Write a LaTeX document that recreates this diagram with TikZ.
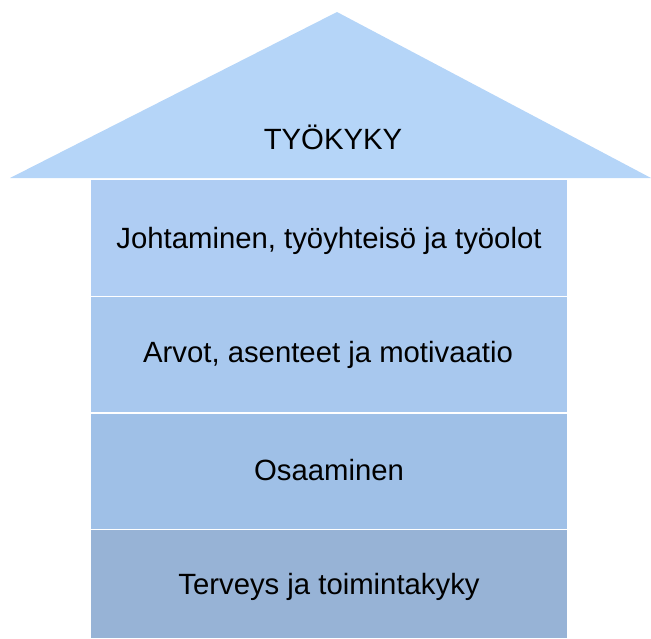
\documentclass[tikz,border=0pt]{standalone}
\usepackage{fontspec}
\setmainfont{Liberation Sans}
\definecolor{roofc}{HTML}{B5D5F8}
\definecolor{bandA}{HTML}{AFCDF3}
\definecolor{bandB}{HTML}{A8C8EE}
\definecolor{bandC}{HTML}{9FC0E7}
\definecolor{bandD}{HTML}{97B3D6}
\tikzset{
  lbl/.style={font=\fontsize{29.3}{34}\selectfont, text=black, inner sep=0pt},
  band/.style={draw=none}
}
\begin{document}
\begin{tikzpicture}[x=1pt,y=-1pt]
\useasboundingbox (0,0) rectangle (651,638);
% roof
\fill[roofc] (10,178) -- (337,12) -- (651,178) -- cycle;
\node[lbl] (roof) at (333,137) {TYÖKYKY};
% bands
\fill[bandA] (91,180) rectangle (567,295.5);
\fill[bandB] (91,297) rectangle (567,412);
\fill[bandC] (91,413.5) rectangle (567,528.5);
\fill[bandD] (91,530) rectangle (567,638);
\node[lbl] (b1) at (329,241) {Johtaminen, työyhteisö ja työolot};
\node[lbl] (b2) at (328,355) {Arvot, asenteet ja motivaatio};
\node[lbl] (b3) at (329,470) {Osaaminen};
\node[lbl] (b4) at (329,587) {Terveys ja toimintakyky};
\end{tikzpicture}
\end{document}
